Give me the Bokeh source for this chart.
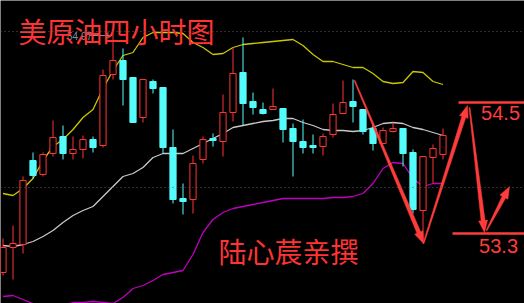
import math
from bokeh.plotting import figure
from bokeh.models import Range1d, ColumnDataSource, Span
from bokeh.core.properties import value
from bokeh.embed import file_html
from bokeh.resources import INLINE

# ---- candle data (4h crude oil) ----
open_ = [52.58, 52.83, 52.86, 53.70, 53.56, 53.77, 53.94, 53.77, 53.81, 53.91,
         53.85, 54.56, 54.70, 54.53, 54.13, 54.49, 54.43, 53.83, 53.32, 53.31,
         53.71, 53.92, 53.89, 54.18, 54.58, 54.29, 54.21, 54.21, 54.22, 54.02,
         53.89, 53.85, 53.84, 53.96, 54.17, 54.29, 54.21, 54.02, 53.87, 53.99,
         54.02, 53.78, 53.20, 53.73, 53.76]
high = [52.92, 53.05, 53.54, 53.78, 53.78, 54.10, 54.05, 53.94, 53.95, 53.94,
        54.61, 54.97, 54.82, 54.53, 54.51, 54.51, 54.43, 54.01, 53.47, 53.75,
        53.94, 53.97, 54.36, 54.83, 54.93, 54.38, 54.28, 54.42, 54.22, 54.07,
        54.11, 53.96, 53.97, 54.27, 54.50, 54.51, 54.21, 54.07, 54.03, 54.08,
        54.02, 53.81, 53.74, 53.86, 54.02]
low = [52.55, 52.51, 52.77, 53.52, 53.54, 53.74, 53.71, 53.71, 53.72, 53.78,
       53.83, 54.51, 54.25, 54.08, 54.08, 54.37, 53.77, 53.27, 53.16, 53.17,
       53.67, 53.84, 53.74, 54.09, 54.05, 54.16, 54.16, 54.21, 53.88, 53.54,
       53.77, 53.77, 53.75, 53.93, 54.17, 54.08, 53.96, 53.80, 53.87, 53.98,
       53.64, 53.17, 52.87, 53.47, 53.71]
close = [52.83, 52.87, 53.50, 53.55, 53.76, 53.93, 53.77, 53.81, 53.91, 53.83,
         54.55, 54.70, 54.51, 54.08, 54.51, 54.42, 53.83, 53.31, 53.29, 53.67,
         53.91, 53.90, 54.18, 54.57, 54.27, 54.23, 54.17, 54.24, 54.01, 53.89,
         53.83, 53.83, 53.94, 54.16, 54.28, 54.24, 53.99, 53.87, 54.00, 54.02,
         53.77, 53.21, 53.74, 53.82, 53.95]

# ---- Bollinger bands ----
upper = [53.37, 53.35, 53.42, 53.52, 53.70, 53.84, 53.91, 54.01, 54.13, 54.21,
         54.42, 54.60, 54.75, 54.78, 54.93, 54.98, 54.98, 54.98, 54.97, 54.88,
         54.83, 54.76, 54.77, 54.83, 54.86, 54.87, 54.88, 54.89, 54.90, 54.91,
         54.85, 54.76, 54.69, 54.69, 54.66, 54.63, 54.63, 54.57, 54.49, 54.47,
         54.48, 54.59, 54.58, 54.49, 54.46]
middle = [52.85, 52.84, 52.86, 52.89, 52.94, 53.00, 53.08, 53.15, 53.20, 53.24,
          53.34, 53.44, 53.54, 53.57, 53.63, 53.73, 53.77, 53.77, 53.77, 53.82,
          53.87, 53.92, 53.97, 54.03, 54.05, 54.07, 54.09, 54.10, 54.12, 54.12,
          54.08, 54.05, 54.01, 54.00, 54.00, 53.99, 54.00, 54.03, 54.07, 54.08,
          54.07, 54.03, 54.01, 53.98, 53.95]
lower = [52.34, 52.35, 52.31, 52.27, 52.24, 52.23, 52.25, 52.28, 52.28, 52.29,
         52.28, 52.27, 52.33, 52.42, 52.45, 52.50, 52.56, 52.58, 52.60, 52.76,
         52.98, 53.11, 53.18, 53.22, 53.24, 53.26, 53.28, 53.30, 53.32, 53.32,
         53.32, 53.32, 53.32, 53.33, 53.33, 53.34, 53.37, 53.47, 53.62, 53.68,
         53.67, 53.52, 53.44, 53.47, 53.47]

ref_levels = [54.99, 53.43]
title_text = "美原油四小时图"
author_text = "陆心莀亲撰"
target_labels = ["54.5", "53.3"]
target_prices = [54.28, 52.97]
# hand-drawn forecast arrows (index, price)
arrow_starts = [(35.15, 54.50), (42.05, 52.87), (46.65, 54.23), (48.35, 53.00)]
arrow_ends = [(42.05, 52.87), (46.45, 54.25), (48.15, 52.98), (50.65, 53.44)]

RED = "#ff3333"
CYAN = "#54fcfc"
ARROW_RED = "#ff3c3c"

n = len(open_)
idx = list(range(n))
up = [c >= o for o, c in zip(open_, close)]

src = ColumnDataSource(dict(
    x=idx, high=high, low=low,
    top=[max(o, c) for o, c in zip(open_, close)],
    bottom=[min(o, c) for o, c in zip(open_, close)],
    line=[RED if u else CYAN for u in up],
    fill=["#000000" if u else CYAN for u in up],
))

p = figure(width=524, height=303, x_range=Range1d(-0.25, 52.15),
           y_range=Range1d(52.27, 55.30), output_backend="svg",
           toolbar_location=None, x_axis_type=None, y_axis_type=None,
           min_border=0, background_fill_color="black",
           border_fill_color="black")
p.grid.visible = False
p.outline_line_color = None

for lvl in ref_levels:
    p.add_layout(Span(location=lvl, dimension="width", line_color="#5a5a5a",
                      line_dash="1 3", line_width=1))

p.line(idx, upper, line_color="#c8c800", line_width=1.3)
p.line(idx, middle, line_color="#c8c8c8", line_width=1.3)
p.line(idx, lower, line_color="#c000c0", line_width=1.3)

p.segment(x0="x", y0="high", x1="x", y1="low", line_color="line",
          line_width=1, source=src)
p.vbar(x="x", top="top", bottom="bottom", width=0.62, fill_color="fill",
       line_color="line", line_width=1, source=src)

# highest price marker
imax = max(range(n), key=lambda i: high[i])
p.text(x=[imax - 4.6], y=[high[imax] - 0.02], text=[f"{high[imax]:.2f}"],
       text_color="#8090a0", text_font=value("Liberation Sans"),
       text_font_size=value("10px"), text_baseline="middle", text_align="left")
p.segment(x0=[imax - 2.3], y0=[high[imax] - 0.02], x1=[imax - 0.1],
          y1=[high[imax] - 0.02], line_color="#8090a0", line_width=1)
p.segment(x0=[imax - 0.5], y0=[high[imax] + 0.01], x1=[imax - 0.5],
          y1=[high[imax] - 0.05], line_color="#8090a0", line_width=1)

# titles
p.text(x=[1.55], y=[55.00], text=[title_text], text_color=RED,
       text_font=value("Noto Sans CJK SC"), text_font_size=value("28px"),
       text_baseline="middle", text_align="left")
p.text(x=[21.55], y=[52.80], text=[author_text], text_color=RED,
       text_font=value("Noto Sans CJK SC"), text_font_size=value("28px"),
       text_baseline="middle", text_align="left")

# target levels
p.segment(x0=[45.55, 44.95], y0=target_prices, x1=[52.15, 52.15],
          y1=target_prices, line_color=ARROW_RED, line_width=2.5)
p.text(x=[51.7, 51.5], y=[54.18, 52.85], text=target_labels,
       text_color=ARROW_RED, text_font=value("Liberation Sans"),
       text_font_size=value("20px"), text_baseline="middle", text_align="right")

# tapered arrows computed in pixel space
SX, SY = 10.0, 100.0


def taper(s, e, w0=1.0, w1=4.0, head_len=12.0, head_w=9.0):
    X0, Y0 = s[0] * SX, s[1] * SY
    X1, Y1 = e[0] * SX, e[1] * SY
    dx, dy = X1 - X0, Y1 - Y0
    L = math.hypot(dx, dy)
    ux, uy = dx / L, dy / L
    nx, ny = -uy, ux
    bx, by = X1 - ux * head_len, Y1 - uy * head_len
    pts = [
        (X0 + nx * w0 / 2, Y0 + ny * w0 / 2),
        (bx + nx * w1 / 2, by + ny * w1 / 2),
        (bx + nx * head_w / 2, by + ny * head_w / 2),
        (X1, Y1),
        (bx - nx * head_w / 2, by - ny * head_w / 2),
        (bx - nx * w1 / 2, by - ny * w1 / 2),
        (X0 - nx * w0 / 2, Y0 - ny * w0 / 2),
    ]
    return [q[0] / SX for q in pts], [q[1] / SY for q in pts]


xs, ys = [], []
for s, e in zip(arrow_starts, arrow_ends):
    a, b = taper(s, e)
    xs.append(a)
    ys.append(b)
p.patches(xs, ys, fill_color=ARROW_RED, line_color=ARROW_RED, line_width=0.5)

open("out.html", "w").write(file_html(p, INLINE))
